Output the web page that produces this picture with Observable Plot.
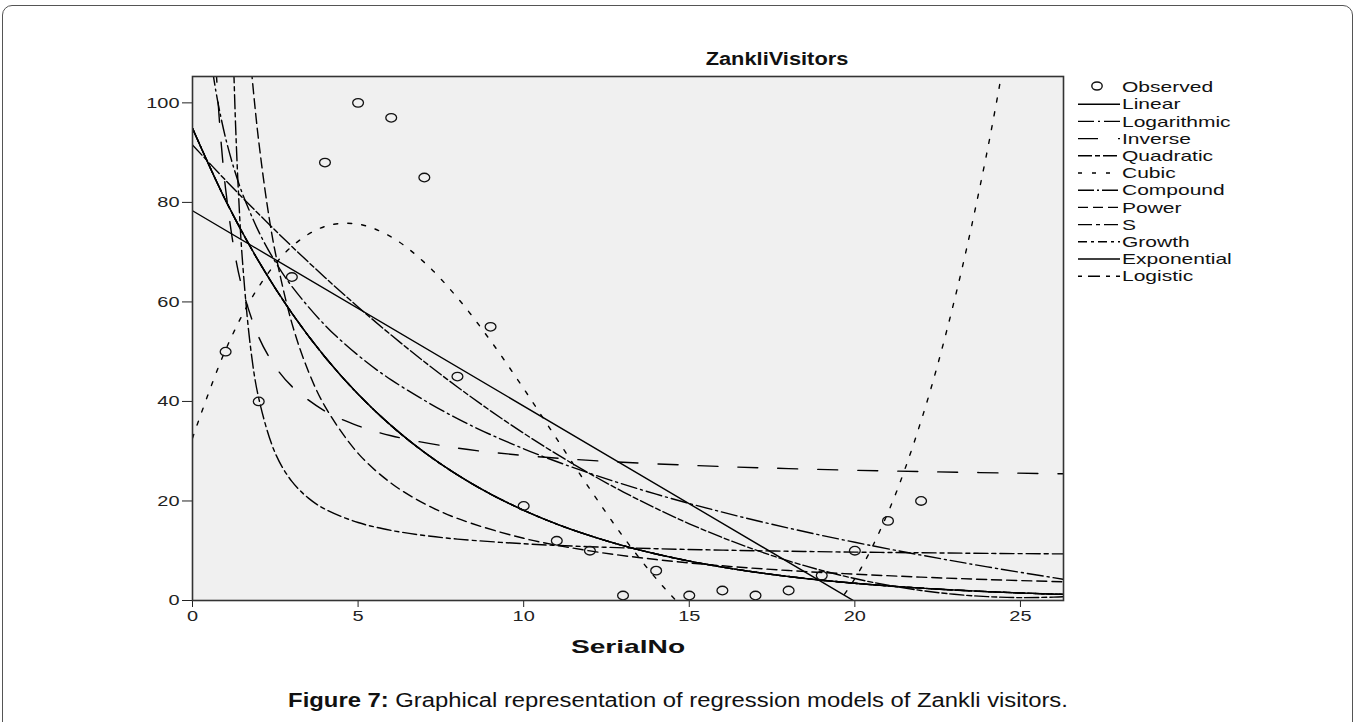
<!DOCTYPE html>
<html>
<head>
<meta charset="utf-8">
<script src="https://cdn.jsdelivr.net/npm/d3@7"></script>
<script src="https://cdn.jsdelivr.net/npm/@observablehq/plot@0.6"></script>
<style>
  html, body { margin: 0; padding: 0; background: #fff; overflow: hidden; }
  body { font-family: "Liberation Sans", Arial, sans-serif; color: #111; }
  #wrap { position: relative; width: 1358px; height: 722px; }
  .box { position: absolute; left: 2px; top: 5px; width: 1351px; height: 780px; border: 1.5px solid #555; border-radius: 10px; box-sizing: border-box; }
  #chart { position: absolute; left: 0; top: 0; }
  #legend { position: absolute; left: 1070px; top: 75px; }
  .stretch { position: absolute; white-space: nowrap; transform-origin: 50% 50%; }
  .title { left: 777px; top: 49px; font-weight: bold; font-size: 18px; }
  .xlabel { left: 628px; top: 636px; font-weight: bold; font-size: 19px; }
  .caption { left: 678px; top: 689px; font-size: 20px; }
</style>
</head>
<body>
<div id="wrap">
  <div class="box"></div>
  <div id="chart"></div>
  <div id="legend"></div>
  <div class="stretch title" data-w="143">ZankliVisitors</div>
  <div class="stretch xlabel" data-w="114">SerialNo</div>
  <div class="stretch caption" data-w="780"><b>Figure 7:</b> Graphical representation of regression models of Zankli visitors.</div>
</div>
<script>
// ---- Observed data ----
const serialNo = [1,2,3,4,5,6,7,8,9,10,11,12,13,14,15,16,17,18,19,20,21,22];
const visitors = [50,40,65,88,100,97,85,45,55,19,12,10,1,6,1,2,1,2,5,10,16,20];

// ---- Fitted curves ----
const linearX = [0, 26.3];
const linearY = [78.32, -24.92];

const logX = [0.6,0.7,0.8,1,1.25,1.5,2,2.5,3,4,5,6,8,10,12,14,16,18,20,22,24,26.3];
const logY = [106.76,102.58,98.96,92.91,86.86,81.92,74.12,68.07,63.13,55.33,49.28,44.34,36.54,30.49,25.55,21.37,17.75,14.55,11.70,9.12,6.76,4.27];

const inverseX = [0.7,0.8,0.9,1,1.25,1.5,2,2.5,3,4,5,6,8,10,12,15,18,22,26.3];
const inverseY = [108.17,97.55,89.29,82.68,70.78,62.85,52.94,46.99,43.03,38.07,35.10,33.11,30.64,29.15,28.16,27.17,26.50,25.90,25.46];

const gridX = [0,1,2,3,4,5,6,7,8,9,10,11,12,13,14,15,16,17,18,19,20,21,22,23,24,25,26,26.3];
const quadraticY = [91.54,84.45,77.66,71.15,64.92,58.99,53.34,47.98,42.90,38.11,33.61,29.40,25.48,21.84,18.49,15.42,12.65,10.16,7.95,6.04,4.41,3.07,2.02,1.25,0.78,0.58,0.68,0.76];
const expY = [94.89,80.41,68.14,57.75,48.94,41.47,35.14,29.78,25.24,21.39,18.13,15.36,13.02,11.03,9.35,7.92,6.71,5.69,4.82,4.08,3.46,2.93,2.48,2.10,1.78,1.51,1.28,1.22];

const cubicX = [0,1,2,3,4,5,6,7,8,9,10,11,12,13,14,15,16,17,18,19,20,21,22,23,24,25];
const cubicY = [32.62,50.38,63.05,71.14,75.17,75.63,73.06,67.95,60.83,52.20,42.58,32.47,22.40,12.87,4.40,-2.51,-7.33,-9.57,-8.70,-4.21,4.41,17.67,36.09,60.17,90.43,127.38];

const powerX = [1.7,1.8,1.9,2,2.25,2.5,3,3.5,4,5,6,7,8,10,12,14,16,18,20,22,24,26.3];
const powerY = [112.9,105.15,98.32,92.26,79.71,69.93,55.75,46.04,39.01,29.57,23.57,19.47,16.49,12.50,9.97,8.23,6.97,6.02,5.29,4.70,4.21,3.76];

const sX = [1.2,1.3,1.4,1.5,1.75,2,2.5,3,3.5,4,5,6,7,8,10,12,14,16,18,20,22,24,26.3];
const sY = [117.3,95.65,80.33,69.04,51.01,40.65,29.58,23.93,20.57,18.36,15.67,14.09,13.06,12.34,11.40,10.81,10.41,10.12,9.90,9.72,9.59,9.47,9.36];

// ---- Axis ticks and labels ----
const xTicks = [0,5,10,15,20,25];
const yTicks = [0,20,40,60,80,100];
const modelNames = ["Linear","Logarithmic","Inverse","Quadratic","Cubic","Compound","Power","S","Growth","Exponential","Logistic"];
const observedLabel = "Observed";

// ---- Styles ----
const dashes = {
  Linear: "none",
  Logarithmic: "16,4,2,4",
  Inverse: "20,20",
  Quadratic: "14,3,5,3",
  Cubic: "4,10",
  Compound: "16,3,2,3",
  Power: "10,5",
  S: "14,4,4,4",
  Growth: "9,4,3,4",
  Exponential: "none",
  Logistic: "4,6,12,6"
};
const seriesXY = {
  Linear: [linearX, linearY],
  Logarithmic: [logX, logY],
  Inverse: [inverseX, inverseY],
  Quadratic: [gridX, quadraticY],
  Cubic: [cubicX, cubicY],
  Compound: [gridX, expY],
  Power: [powerX, powerY],
  S: [sX, sY],
  Growth: [gridX, expY],
  Exponential: [gridX, expY],
  Logistic: [gridX, expY]
};

const observed = serialNo.map((x, i) => ({x, y: visitors[i]}));

// slightly wide open ellipse, like the reference's markers
const ellipseSymbol = {
  draw(context, size) {
    const r = Math.sqrt(size / Math.PI);
    const rx = r * 1.2, ry = r * 0.95, k = 0.5523;
    context.moveTo(rx, 0);
    context.bezierCurveTo(rx, ry * k, rx * k, ry, 0, ry);
    context.bezierCurveTo(-rx * k, ry, -rx, ry * k, -rx, 0);
    context.bezierCurveTo(-rx, -ry * k, -rx * k, -ry, 0, -ry);
    context.bezierCurveTo(rx * k, -ry, rx, -ry * k, rx, 0);
    context.closePath();
  }
};

const lineMarks = modelNames.map(name => {
  const [xs, ys] = seriesXY[name];
  const rows = xs.map((x, i) => ({x, y: ys[i]}));
  return Plot.line(rows, {
    x: "x", y: "y",
    stroke: "#000", strokeWidth: 1.4,
    strokeDasharray: dashes[name],
    curve: name === "Linear" ? "linear" : "catmull-rom",
    clip: true
  });
});

const chart = Plot.plot({
  width: 1070,
  height: 680,
  marginLeft: 192,
  marginRight: 7,
  marginTop: 76,
  marginBottom: 80,
  style: {fontFamily: "'Liberation Sans', Arial, sans-serif", fontSize: "15px", color: "#222", background: "transparent", overflow: "visible"},
  x: {domain: [0, 26.3], ticks: xTicks, tickSize: 7, tickPadding: 3, label: null},
  y: {domain: [0, 105.3], ticks: yTicks, tickSize: 10, tickPadding: 3, label: null},
  marks: [
    Plot.frame({fill: "#f0f0f0", stroke: "none"}),
    ...lineMarks,
    Plot.dot(observed, {x: "x", y: "y", r: 4.5, symbol: ellipseSymbol, stroke: "#111", strokeWidth: 1.3, fill: "none"}),
    Plot.frame({stroke: "#333", strokeWidth: 1.6})
  ]
});
document.getElementById("chart").appendChild(chart);

// widen tick labels like the (horizontally stretched) reference
chart.querySelectorAll("text").forEach(t => {
  const len = t.getComputedTextLength();
  if (len > 0) {
    t.setAttribute("textLength", (len * 1.33).toFixed(1));
    t.setAttribute("lengthAdjust", "spacingAndGlyphs");
  }
});

// ---- Legend ----
const legendItems = [observedLabel, ...modelNames];
const lg = d3.select("#legend").append("svg").attr("width", 200).attr("height", 215)
  .style("font-family", "'Liberation Sans', Arial, sans-serif").style("font-size", "15px");
const rowY = i => 12 + i * 17.2;
legendItems.forEach((name, i) => {
  const y = rowY(i);
  if (i === 0) {
    lg.append("ellipse").attr("cx", 27).attr("cy", y - 1).attr("rx", 5.2).attr("ry", 4)
      .attr("fill", "none").attr("stroke", "#111").attr("stroke-width", 1.4);
  } else {
    lg.append("line").attr("x1", 8).attr("x2", 50).attr("y1", y).attr("y2", y)
      .attr("stroke", "#000").attr("stroke-width", 1.4)
      .attr("stroke-dasharray", dashes[name]);
  }
  const txt = lg.append("text").attr("x", 52).attr("y", y).attr("dy", "0.35em").attr("fill", "#111").text(name);
  const node = txt.node();
  const len = node.getComputedTextLength();
  txt.attr("textLength", (len * 1.4).toFixed(1)).attr("lengthAdjust", "spacingAndGlyphs");
});

// ---- Stretch HTML texts to the reference widths ----
document.querySelectorAll(".stretch").forEach(el => {
  const w = el.offsetWidth;
  const target = +el.dataset.w;
  el.style.transform = `translateX(-50%) scaleX(${(target / w).toFixed(3)})`;
});
</script>
</body>
</html>
